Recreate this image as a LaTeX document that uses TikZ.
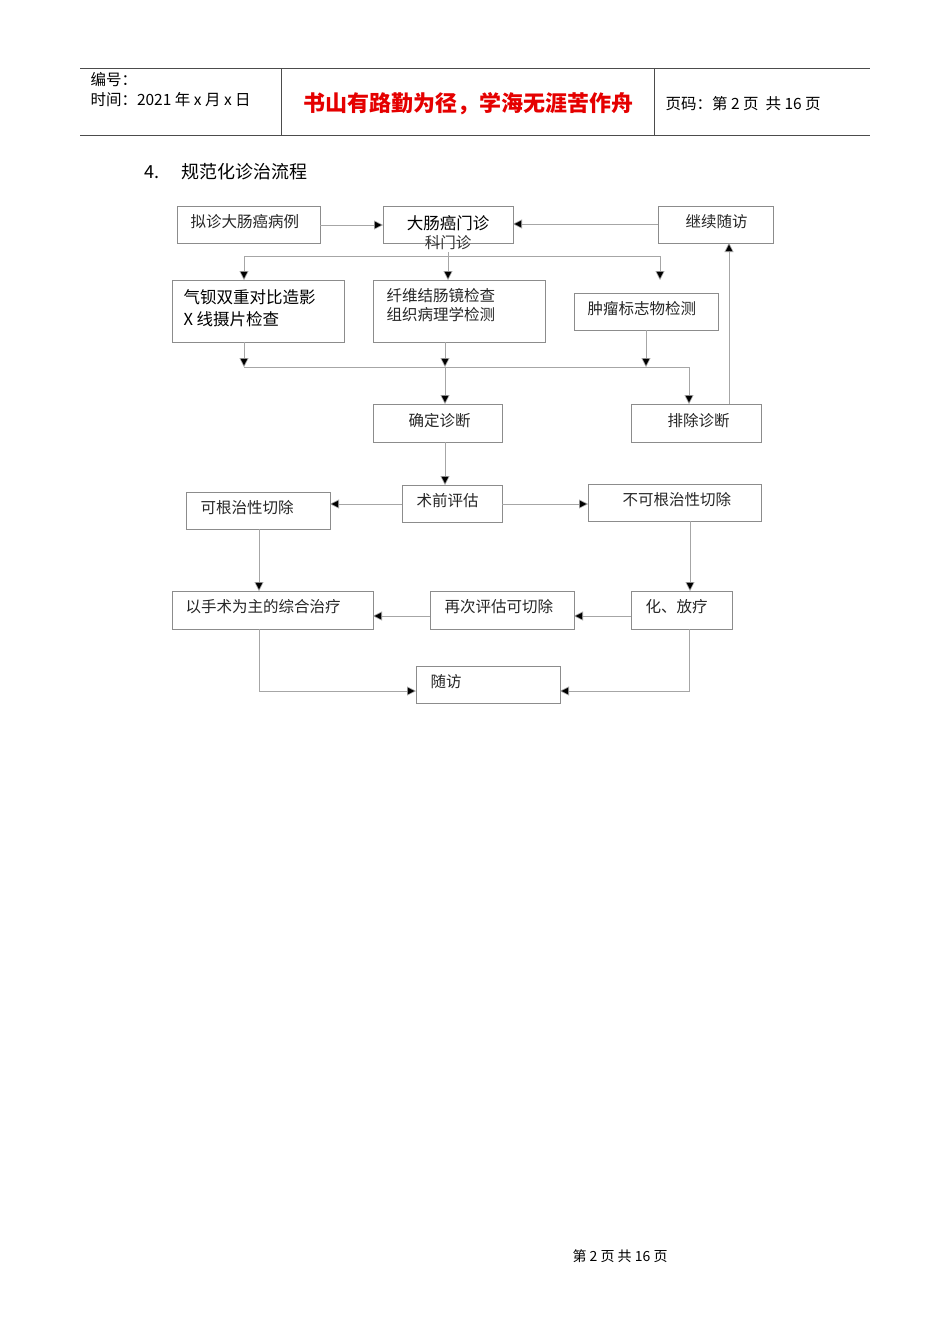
\documentclass[tikz,border=0pt]{standalone}
\usepackage{fontspec}
\setmainfont{Noto Sans CJK SC}
\usetikzlibrary{arrows.meta}
\begin{document}
\begin{tikzpicture}[x=1pt,y=-1pt,
 bx/.style={draw=black!45,line width=0.6pt,inner sep=0},
 ln/.style={draw=black!35,line width=0.6pt},
 ar/.style={ln,-{Triangle[length=9pt,width=9pt,fill=black]}},
 tx/.style={font=\fontsize{15.5}{18}\selectfont,anchor=west,text=black!85,align=left}]
\useasboundingbox[fill=white] (0,0) rectangle (950,1344);
% header
\draw[black!70,line width=0.8pt] (80,68)--(870,68) (80,135)--(870,135) (281,68)--(281,135) (654,68)--(654,135);
\node[anchor=west,font=\fontsize{15.5}{18}\selectfont] (h1) at (87,80) {编号：};
\node[anchor=west,font=\fontsize{15.5}{18}\selectfont] (h2) at (87,100) {时间：2021 年 x 月 x 日};
\node[font=\fontsize{22}{26}\selectfont\bfseries,text=red!90!black] (h3) at (468,104) {书山有路勤为径，学海无涯苦作舟};
\node[anchor=west,font=\fontsize{15.5}{18}\selectfont] (h4) at (662,104) {页码：第 2 页\ \ 共 16 页};
\node[anchor=west,font=\fontsize{18}{22}\selectfont] (t) at (141,172) {4.\quad\ 规范化诊治流程};
% boxes
\draw[bx] (177,206) rectangle (320,243); \node[tx] (a) at (187,222) {拟诊大肠癌病例};
\draw[bx] (383,206) rectangle (513,243); \node[font=\fontsize{16.5}{18}\selectfont] (b) at (448,223) {大肠癌门诊};
\node[font=\fontsize{15.5}{18}\selectfont,text=black!80] (b2) at (448,243) {科门诊};
\draw[bx] (658,206) rectangle (773,243); \node[tx] (c) at (682,222) {继续随访};
\draw[bx] (172,280) rectangle (344,342); \node[tx,font=\fontsize{16.5}{22}\selectfont,text=black] (d) at (180,308) {气钡双重对比造影\\X 线摄片检查};
\draw[bx] (373,280) rectangle (545,342); \node[tx,font=\fontsize{15.5}{19}\selectfont] (e) at (383,305) {纤维结肠镜检查\\组织病理学检测};
\draw[bx] (574,293) rectangle (718,330); \node[tx] (f) at (584,309) {肿瘤标志物检测};
\draw[bx] (373,404) rectangle (502,442); \node[tx] (g) at (405,421) {确定诊断};
\draw[bx] (631,404) rectangle (761,442); \node[tx] (h) at (664,421) {排除诊断};
\draw[bx] (402,485) rectangle (502,522); \node[tx] (i) at (413,501) {术前评估};
\draw[bx] (186,492) rectangle (330,529); \node[tx] (j) at (197,508) {可根治性切除};
\draw[bx] (588,484) rectangle (761,521); \node[tx] (k) at (619,500) {不可根治性切除};
\draw[bx] (172,591) rectangle (373,629); \node[tx] (l) at (182,607) {以手术为主的综合治疗};
\draw[bx] (430,591) rectangle (574,629); \node[tx] (m) at (441,607) {再次评估可切除};
\draw[bx] (631,591) rectangle (732,629); \node[tx] (n) at (642,607) {化、放疗};
\draw[bx] (416,666) rectangle (560,703); \node[tx] (o) at (427,682) {随访};
% connectors
\coordinate (p1) at (320,225); \coordinate (p2) at (383,225);
\draw[ar] (p1)--(p2);
\coordinate (p3) at (658,224); \coordinate (p4) at (513,224);
\draw[ar] (p3)--(p4);
\draw[ln] (448,252)--(448,256) (244,256)--(660,256);
\draw[ar] (244,256)--(244,280); \draw[ar] (448,256)--(448,280); \draw[ar] (660,256)--(660,280);
\draw[ar] (244,342)--(244,367); \draw[ar] (445,342)--(445,367); \draw[ar] (646,330)--(646,367);
\draw[ln] (244,367)--(689,367);
\draw[ar] (445,367)--(445,404); \draw[ar] (689,367)--(689,404);
\draw[ar] (729,404)--(729,243);
\draw[ar] (445,442)--(445,485);
\draw[ar] (402,504)--(330,504);
\draw[ar] (502,504)--(588,504);
\draw[ar] (690,521)--(690,591);
\draw[ar] (259,529)--(259,591);
\draw[ar] (631,616)--(574,616);
\draw[ar] (430,616)--(373,616);
\draw[ar] (259,629)--(259,691)--(416,691);
\draw[ar] (689,629)--(689,691)--(560,691);
% footer
\node[font=\fontsize{14}{16}\selectfont] (ft) at (620,1256) {第\ 2\ 页\ 共\ 16\ 页};
\end{tikzpicture}
\end{document}
